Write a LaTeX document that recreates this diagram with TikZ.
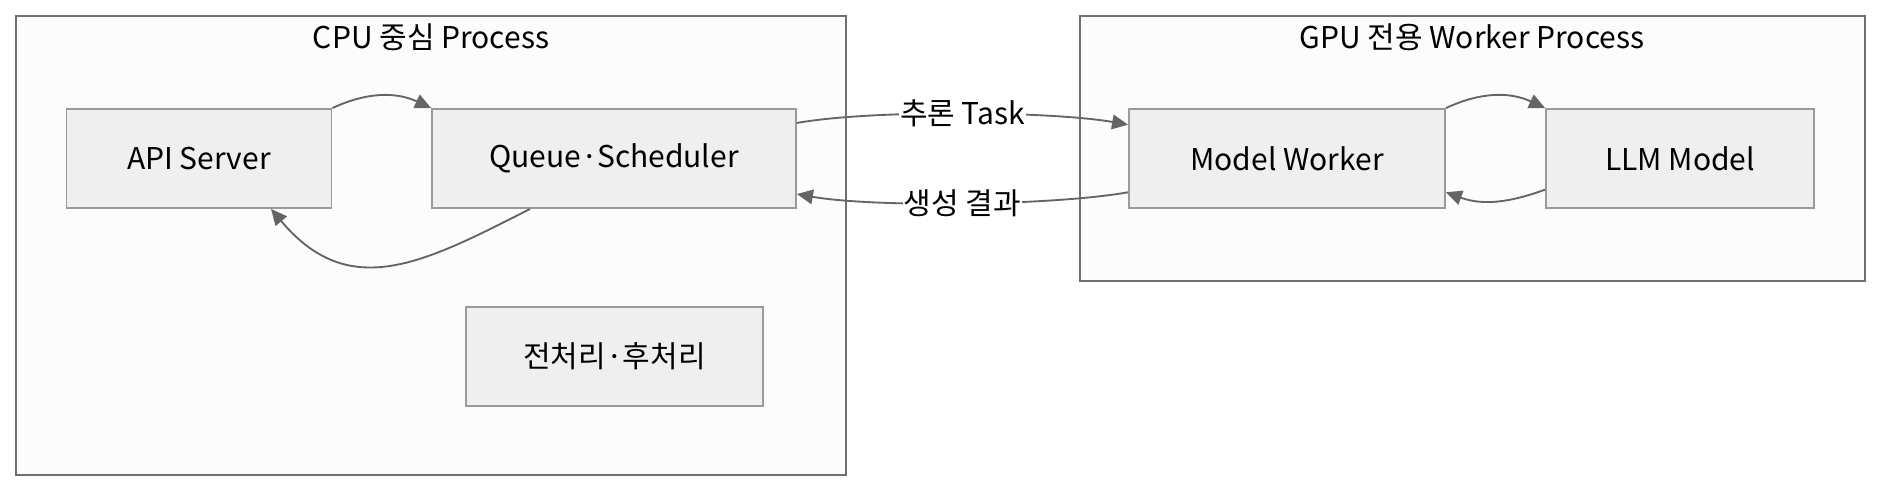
\documentclass[tikz,border=0pt]{standalone}
\usepackage{fontspec}
\setmainfont{Noto Sans CJK KR}
\usetikzlibrary{arrows.meta}

\definecolor{groupfill}{HTML}{FCFCFC}
\definecolor{groupline}{HTML}{6F6F6F}
\definecolor{boxfill}{HTML}{EFEFEF}
\definecolor{boxline}{HTML}{9A9A9A}
\definecolor{edgeline}{HTML}{656565}

\tikzset{
  group/.style={draw=groupline,fill=groupfill,line width=1.4pt},
  grouptitle/.style={font=\fontsize{22.5}{27}\selectfont},
  box/.style={draw=boxline,fill=boxfill,line width=1.4pt,minimum height=74.25pt,
    font=\fontsize{22.5}{27}\selectfont,inner sep=0pt},
  flow/.style={draw=edgeline,line width=1.4pt,-{Triangle[length=12pt,width=11pt]}},
  flowlabel/.style={fill=white,inner sep=1pt,font=\fontsize{22.5}{27}\selectfont}
}

\begin{document}
\begin{tikzpicture}
      [x=0.75pt,y=-0.75pt]
      \useasboundingbox (0,0) rectangle (1881,492);

      % process groups
      \draw [group] (16,16) rectangle (846,475);
      \draw [group] (1080,16) rectangle (1865,281);
      \node [grouptitle] (cputitle) at (431,37) {CPU 중심 Process};
      \node [grouptitle] (gputitle) at (1472,37) {GPU 전용 Worker Process};

      \node [box,minimum width=198.75pt] (api) at (199,158.5) {API Server};
      \node [box,minimum width=273pt] (queue) at (614,158.5) {Queue·Scheduler};
      \node [box,minimum width=222.75pt] (prep) at (614.5,356.5) {전처리·후처리};
      \node [box,minimum width=237pt] (worker) at (1287,158.5) {Model Worker};
      \node [box,minimum width=201pt] (llm) at (1680,158.5) {LLM Model};

      \foreach \from/\to/\o/\i/\l in {api.north east/queue.north west/25/155/1,
          queue.211/api.325/207/-50/1.2,
          worker.north east/llm.north west/25/155/1,
          llm.193/worker.-12/200/-20/1}
      \draw [flow] (\from) to[out=\o,in=\i,looseness=\l] (\to);

      \draw [flow] (queue.11) to[out=10,in=170,looseness=0.6]
        node [flowlabel] (tasklabel) {추론 Task} (worker.168);
      \draw [flow] (worker.192) to[out=190,in=-10,looseness=0.6]
        node [flowlabel] (resultlabel) {생성 결과} (queue.-11);
    \end{tikzpicture}
\end{document}
